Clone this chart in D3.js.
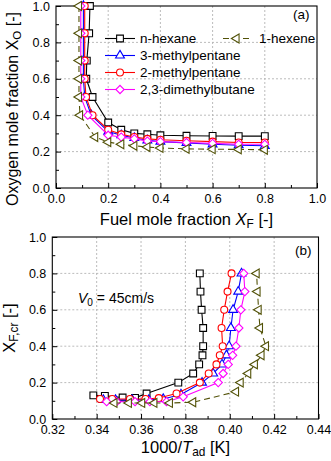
<!DOCTYPE html>
<html><head><meta charset="utf-8">
<script src="https://cdn.jsdelivr.net/npm/d3@7"></script>
<style>body{margin:0;background:#fff}svg{display:block;font-family:"Liberation Sans",Arial,sans-serif}</style>
</head><body><svg id="c" width="331" height="461"></svg>
<script>
// ---- data ----
const seriesNames = ["n-hexane", "3-methylpentane", "2-methylpentane", "2,3-dimethylbutane", "1-hexene"];
// panel (a): fuel mole fraction XF vs oxygen mole fraction XO ; panel (b): 1000/Tad vs XF
const nHexaneXF = [0.13, 0.127, 0.118, 0.116, 0.14, 0.2, 0.25, 0.3, 0.35, 0.4, 0.5, 0.6, 0.7, 0.8];
const nHexaneXO = [1.0, 0.85, 0.70, 0.60, 0.50, 0.36, 0.32, 0.30, 0.295, 0.29, 0.287, 0.286, 0.285, 0.285];
const nHexaneInvT = [0.3385, 0.3437, 0.3517, 0.3573, 0.3625, 0.3768, 0.3835, 0.3862, 0.3877, 0.388, 0.388, 0.3873, 0.3868, 0.3865];

const mp3XF = [0.105, 0.105, 0.105, 0.105, 0.11, 0.135, 0.2, 0.25, 0.3, 0.35, 0.4, 0.5, 0.6, 0.7, 0.8];
const mp3XO = [1.0, 0.85, 0.70, 0.60, 0.50, 0.40, 0.31, 0.29, 0.275, 0.262, 0.255, 0.248, 0.24, 0.235, 0.232];
const mp3InvT = [0.343, 0.3485, 0.356, 0.3635, 0.370, 0.378, 0.3875, 0.3925, 0.3965, 0.3985, 0.3997, 0.4005, 0.4015, 0.4038, 0.4053];

const mp2XF = [0.11, 0.11, 0.11, 0.11, 0.115, 0.14, 0.2, 0.25, 0.3, 0.35, 0.4, 0.5, 0.6, 0.7, 0.8];
const mp2XO = [1.0, 0.85, 0.70, 0.60, 0.50, 0.40, 0.32, 0.295, 0.28, 0.27, 0.265, 0.26, 0.255, 0.25, 0.25];
const mp2InvT = [0.3415, 0.347, 0.355, 0.362, 0.368, 0.376, 0.3865, 0.3905, 0.394, 0.3955, 0.3968, 0.3963, 0.3975, 0.399, 0.4008];

const dmbXF = [0.095, 0.095, 0.095, 0.095, 0.095, 0.122, 0.2, 0.25, 0.3, 0.35, 0.4, 0.5, 0.6, 0.7, 0.8];
const dmbXO = [1.0, 0.85, 0.70, 0.60, 0.50, 0.40, 0.29, 0.28, 0.27, 0.258, 0.255, 0.25, 0.245, 0.24, 0.24];
const dmbInvT = [0.3445, 0.349, 0.3573, 0.364, 0.3715, 0.379, 0.3948, 0.397, 0.3993, 0.4013, 0.4028, 0.4041, 0.405, 0.4068, 0.4063];

const hexeneXF = [0.088, 0.088, 0.088, 0.088, 0.088, 0.092, 0.15, 0.2, 0.25, 0.3, 0.35, 0.4, 0.5, 0.6, 0.7, 0.8];
const hexeneXO = [1.0, 0.85, 0.70, 0.60, 0.50, 0.40, 0.28, 0.252, 0.24, 0.232, 0.225, 0.22, 0.215, 0.213, 0.212, 0.21];
const hexeneInvT = [0.348, 0.3545, 0.3605, 0.366, 0.373, 0.3835, 0.4028, 0.4049, 0.4083, 0.4113, 0.4143, 0.4163, 0.4136, 0.413, 0.4125, 0.4121];

const xTicksA = [0, 0.2, 0.4, 0.6, 0.8, 1.0];
const yTicks = [0, 0.2, 0.4, 0.6, 0.8, 1.0];
const xTicksB = [0.32, 0.34, 0.36, 0.38, 0.40, 0.42, 0.44];

// ---- styles ----
const colors = ["#000000", "#0000ff", "#ff0000", "#ff00ff", "#525208"];
const series = [
  {xf: nHexaneXF, xo: nHexaneXO, t: nHexaneInvT, sym: "square", dash: null},
  {xf: mp3XF, xo: mp3XO, t: mp3InvT, sym: "triangle", dash: null},
  {xf: mp2XF, xo: mp2XO, t: mp2InvT, sym: "circle", dash: null},
  {xf: dmbXF, xo: dmbXO, t: dmbInvT, sym: "diamond", dash: null},
  {xf: hexeneXF, xo: hexeneXO, t: hexeneInvT, sym: "tleft", dash: "6,4"}
];

const svg = d3.select("#c");
const tickFont = 12.5, titleFont = 16.5;

function symbolPath(sym) {
  if (sym === "square") return {d: d3.symbol(d3.symbolSquare, 46)(), rot: 0};
  if (sym === "circle") return {d: d3.symbol(d3.symbolCircle, 38)(), rot: 0};
  if (sym === "triangle") return {d: d3.symbol(d3.symbolTriangle, 34)(), rot: 0};
  if (sym === "diamond") return {d: d3.symbol(d3.symbolSquare, 34)(), rot: 45};
  return {d: d3.symbol(d3.symbolTriangle, 34)(), rot: -90};
}

function drawMarker(g, x, y, sym, color) {
  const s = symbolPath(sym);
  g.append("path").attr("d", s.d)
    .attr("transform", `translate(${x},${y}) rotate(${s.rot})`)
    .attr("fill", "#fff").attr("stroke", color).attr("stroke-width", 1.1);
}

function panel(cfg) {
  const {x, y, xTicks, xMinor, yMinor, gridX, gridY} = cfg;
  const g = svg.append("g");
  const [x0, x1] = x.range(), [y0, y1] = y.range();
  // grid
  g.selectAll(".gx").data(gridX).join("line")
    .attr("x1", d => x(d)).attr("x2", d => x(d)).attr("y1", y0).attr("y2", y1)
    .attr("stroke", "#b4b4b4").attr("stroke-width", 0.9).attr("stroke-dasharray", "2,2");
  g.selectAll(".gy").data(gridY).join("line")
    .attr("y1", d => y(d)).attr("y2", d => y(d)).attr("x1", x0).attr("x2", x1)
    .attr("stroke", "#b4b4b4").attr("stroke-width", 0.9).attr("stroke-dasharray", "2,2");
  // axes
  const ax = g.append("g").attr("transform", `translate(0,${y0})`)
    .call(d3.axisBottom(x).tickValues(xTicks).tickSizeInner(-5).tickSizeOuter(0).tickPadding(6)
      .tickFormat(cfg.xFmt));
  const axm = g.append("g").attr("transform", `translate(0,${y0})`)
    .call(d3.axisBottom(x).tickValues(xMinor).tickSizeInner(-3).tickSizeOuter(0).tickFormat(""));
  const ay = g.append("g").attr("transform", `translate(${x0},0)`)
    .call(d3.axisLeft(y).tickValues(yTicks).tickSizeInner(-5).tickSizeOuter(0).tickPadding(cfg.yPad)
      .tickFormat(d3.format(".1f")));
  const aym = g.append("g").attr("transform", `translate(${x0},0)`)
    .call(d3.axisLeft(y).tickValues(yMinor).tickSizeInner(-3).tickSizeOuter(0).tickFormat(""));
  [ax, axm, ay, aym].forEach(a => {
    a.select(".domain").remove();
    a.selectAll("line").attr("stroke", "#000").attr("stroke-width", 1);
    a.selectAll("text").attr("font-size", tickFont).attr("font-family", null).attr("fill", "#000");
  });
  // frame
  g.append("rect").attr("x", x0).attr("y", y1).attr("width", x1 - x0).attr("height", y0 - y1)
    .attr("fill", "none").attr("stroke", "#000").attr("stroke-width", 1.1);
  return g;
}

// ---- panel (a) ----
const xa = d3.scaleLinear().domain([0, 1]).range([56, 317]);
const ya = d3.scaleLinear().domain([0, 1]).range([188, 6]);
const ga = panel({x: xa, y: ya, xTicks: xTicksA, xMinor: [0.1, 0.3, 0.5, 0.7, 0.9],
  yMinor: [0.1, 0.3, 0.5, 0.7, 0.9], gridX: [0.2, 0.4, 0.6, 0.8], gridY: [0.2, 0.4, 0.6, 0.8],
  xFmt: d3.format(".1f"), yPad: 6});

// ---- panel (b) ----
const xb = d3.scaleLinear().domain([0.32, 0.44]).range([52.3, 318.5]);
const yb = d3.scaleLinear().domain([0, 1]).range([419, 237]);
const gb = panel({x: xb, y: yb, xTicks: xTicksB, xMinor: [0.33, 0.35, 0.37, 0.39, 0.41, 0.43],
  yMinor: [0.1, 0.3, 0.5, 0.7, 0.9], gridX: [0.34, 0.36, 0.38, 0.40, 0.42], gridY: [0.2, 0.4, 0.6, 0.8],
  xFmt: d3.format(".2f"), yPad: 6});

// ---- series ----
series.forEach((s, i) => {
  const c = colors[i];
  const ptsA = s.xf.map((v, k) => [xa(v), ya(s.xo[k])]);
  const ptsB = s.t.map((v, k) => [xb(v), yb(s.xf[k])]);
  [[ga, ptsA], [gb, ptsB]].forEach(([g, pts]) => {
    const sg = g.append("g");
    sg.append("path").attr("d", d3.line()(pts)).attr("fill", "none").attr("stroke", c)
      .attr("stroke-width", 1.1).attr("stroke-dasharray", s.dash);
    pts.forEach(p => drawMarker(sg, p[0], p[1], s.sym, c));
  });
});

// ---- legend ----
const lg = svg.append("g");
const legRows = [38.5, 55.5, 72.5, 89.5];
[0, 1, 2, 3].forEach(i => {
  const yy = legRows[i];
  lg.append("line").attr("x1", 105).attr("x2", 135).attr("y1", yy).attr("y2", yy)
    .attr("stroke", colors[i]).attr("stroke-width", 1.1);
  drawMarker(lg, 120, yy, series[i].sym, colors[i]);
  lg.append("text").attr("x", 140).attr("y", yy + 4.8).attr("font-size", 13.5).text(seriesNames[i]);
});
lg.append("line").attr("x1", 223).attr("x2", 252).attr("y1", legRows[0]).attr("y2", legRows[0])
  .attr("stroke", colors[4]).attr("stroke-width", 1.1).attr("stroke-dasharray", "6,4");
drawMarker(lg, 236.5, legRows[0], "tleft", colors[4]);
lg.append("text").attr("x", 259).attr("y", legRows[0] + 4.8).attr("font-size", 13.5).text(seriesNames[4]);

// ---- labels ----
svg.append("text").attr("x", 293).attr("y", 19).attr("font-size", 13.5).text("(a)");
svg.append("text").attr("x", 295).attr("y", 255).attr("font-size", 13.5).text("(b)");

function subText(sel, parts) {
  parts.forEach(p => {
    const t = sel.append("tspan").text(p.t);
    if (p.i) t.attr("font-style", "italic");
    if (p.sub) t.attr("font-size", "72%").attr("dy", "0.28em");
    if (p.up) t.attr("dy", "-0.2em");
  });
}
const yta = svg.append("text").attr("transform", "translate(18,109) rotate(-90)")
  .attr("text-anchor", "middle").attr("font-size", 16);
subText(yta, [{t: "Oxygen mole fraction X"}, {t: "O", sub: 1}, {t: " [-]", up: 1}]);

const xta = svg.append("text").attr("x", 186.5).attr("y", 225).attr("text-anchor", "middle").attr("font-size", titleFont);
subText(xta, [{t: "Fuel mole fraction "}, {t: "X", i: 1}, {t: "F", sub: 1}, {t: " [-]", up: 1}]);

const ytb = svg.append("text").attr("transform", "translate(15,328) rotate(-90)")
  .attr("text-anchor", "middle").attr("font-size", titleFont);
subText(ytb, [{t: "X"}, {t: "F,cr", sub: 1}, {t: " [-]", up: 1}]);

const xtb = svg.append("text").attr("x", 185.5).attr("y", 453).attr("text-anchor", "middle").attr("font-size", titleFont);
subText(xtb, [{t: "1000/"}, {t: "T", i: 1}, {t: "ad", sub: 1}, {t: " [K]", up: 1}]);

const v0 = svg.append("text").attr("x", 78).attr("y", 303).attr("font-size", 14);
subText(v0, [{t: "V", i: 1}, {t: "0", sub: 1}, {t: " = 45cm/s", up: 1}]);
</script></body></html>
